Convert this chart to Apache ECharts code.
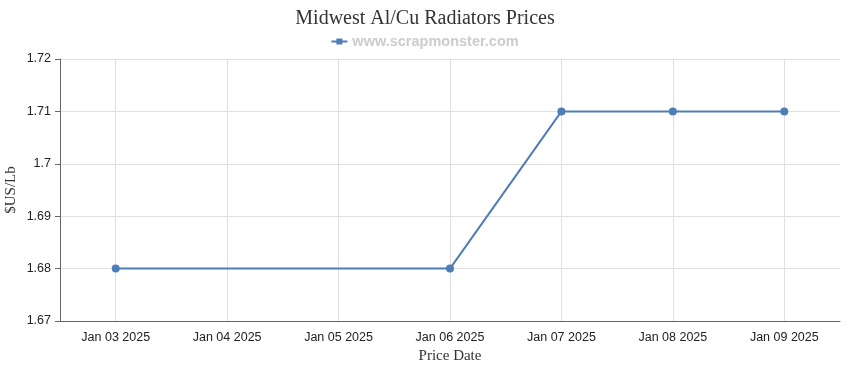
<!DOCTYPE html>
<html><head><meta charset="utf-8">
<script src="https://cdn.jsdelivr.net/npm/echarts@6/dist/echarts.min.js"></script>
<style>html,body{margin:0;padding:0;background:#fff}#c{width:850px;height:370px}</style>
</head><body><div id="c"></div>
<script>
const categories = ['Jan 03 2025','Jan 04 2025','Jan 05 2025','Jan 06 2025','Jan 07 2025','Jan 08 2025','Jan 09 2025'];
const prices = [1.68, null, null, 1.68, 1.71, 1.71, 1.71];
const yMin = 1.67, yMax = 1.72, yStep = 0.01;
const chart = echarts.init(document.getElementById('c'), null, {renderer:'canvas'});
chart.setOption({
  animation: false,
  title: {text: 'Midwest Al/Cu Radiators Prices', left: 'center', top: 4,
    textStyle: {fontFamily: 'Liberation Serif', fontSize: 20, fontWeight: 'normal', color: '#333'}},
  legend: {top: 29, left: 'center', itemWidth: 16, itemHeight: 6, itemGap: 5,
    textStyle: {fontFamily: 'Liberation Sans', fontSize: 14.5, fontWeight: 'bold', color: '#cccccc'},
    data: [{name: 'www.scrapmonster.com', icon: 'path://M0,2L16,2L16,4L0,4Z M5,0L11,0L11,6L5,6Z'}]},
  grid: {left: 60, right: 10, top: 59, bottom: 49, containLabel: false, outerBoundsMode: 'none'},
  xAxis: {type: 'category', data: categories, boundaryGap: true,
    name: 'Price Date', nameLocation: 'middle', nameGap: 26,
    nameTextStyle: {fontFamily: 'Liberation Serif', fontSize: 15, color: '#333'},
    axisLine: {lineStyle: {color: '#666', width: 1}},
    axisTick: {alignWithLabel: true, length: 5, lineStyle: {color: '#666'}},
    axisLabel: {fontFamily: 'Liberation Sans', fontSize: 12.5, color: '#222', margin: 10},
    splitLine: {show: false}},
  yAxis: {type: 'value', min: yMin, max: yMax, interval: yStep,
    name: '$US/Lb', nameLocation: 'middle', nameGap: 41, nameRotate: 90, nameMoveOverlap: false,
    nameTextStyle: {fontFamily: 'Liberation Serif', fontSize: 15, color: '#333'},
    axisLine: {show: true, lineStyle: {color: '#666', width: 1}},
    axisTick: {show: true, length: 5, lineStyle: {color: '#666'}},
    axisLabel: {fontFamily: 'Liberation Sans', fontSize: 12.5, color: '#222', margin: 9,
      formatter: v => String(parseFloat(v.toFixed(2)))},
    splitLine: {lineStyle: {color: '#e0e0e0', width: 1}}},
  series: [
    {name: 'grid-v', type: 'line', data: categories.map(() => null), silent: true, z: 1,
      markLine: {silent: true, symbol: 'none', label: {show: false},
        lineStyle: {color: '#e0e0e0', type: 'solid', width: 1},
        data: categories.map(c => ({xAxis: c}))}},
    {name: 'www.scrapmonster.com', type: 'line', data: prices, connectNulls: true,
      symbol: 'circle', symbolSize: 8, showAllSymbol: true,
      itemStyle: {color: '#4f7db8'}, lineStyle: {color: '#4f7db8', width: 2}, z: 5}]
});
</script></body></html>
